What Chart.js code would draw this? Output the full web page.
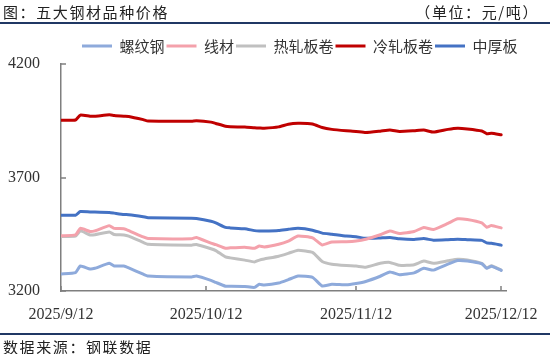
<!DOCTYPE html>
<html><head><meta charset="utf-8">
<script src="https://cdn.jsdelivr.net/npm/chart.js@4/dist/chart.umd.min.js"></script>
<style>
html,body{margin:0;padding:0;background:#fff;}
#wrap{position:relative;width:550px;height:354px;overflow:hidden;background:#fff;}
#c{position:absolute;left:0;top:0;}
.t{position:absolute;font-family:"Noto Sans CJK SC";font-size:15px;color:#222;white-space:nowrap;line-height:1;letter-spacing:1.6px;}
.rule{position:absolute;left:0;width:550px;height:2px;background:#203864;}
</style></head><body>
<div id="wrap">
<canvas id="c" width="550" height="354"></canvas>
<div class="t" style="left:3px;top:4px;">图：五大钢材品种价格</div>
<div class="t" style="right:11px;top:4px;">（单位：元/吨）</div>
<div class="rule" style="top:22px"></div>
<div class="rule" style="top:333px"></div>
<div class="t" style="left:3px;top:339px;">数据来源：钢联数据</div>
</div>
<script>
const dates = ['2025-09-12','2025-09-15','2025-09-16','2025-09-18','2025-09-19','2025-09-22','2025-09-23','2025-09-25','2025-09-26','2025-09-29',
'2025-09-30','2025-10-09','2025-10-10','2025-10-13','2025-10-14','2025-10-16','2025-10-17','2025-10-20','2025-10-22','2025-10-23',
'2025-10-24','2025-10-27','2025-10-29','2025-10-31','2025-11-03','2025-11-05','2025-11-07','2025-11-10','2025-11-12','2025-11-14',
'2025-11-17','2025-11-19','2025-11-21','2025-11-24','2025-11-26','2025-11-28','2025-12-01','2025-12-03','2025-12-05','2025-12-08',
'2025-12-09','2025-12-10','2025-12-12'];
const seriesNames = ['螺纹钢','线材','热轧板卷','冷轧板卷','中厚板'];
const rebar = [3275,3281,3310,3297,3300,3322,3310,3310,3302,3274, 3266,3262,3266,3247,3238,3221,3221,3220,3216,3230, 3226,3235,3250,3266,3260,3222,3230,3227,3233,3242, 3265,3284,3272,3280,3300,3292,3318,3334,3332,3320, 3300,3309,3291];
const wire = [3443,3447,3476,3462,3465,3488,3476,3474,3466,3438, 3431,3430,3436,3411,3404,3388,3390,3393,3388,3398, 3394,3406,3420,3442,3434,3403,3416,3417,3420,3428, 3448,3464,3453,3462,3480,3471,3498,3518,3515,3500, 3481,3489,3478];
const hotCoil = [3440,3442,3465,3447,3448,3460,3449,3447,3442,3414, 3406,3402,3405,3386,3378,3350,3346,3336,3328,3336, 3341,3353,3366,3380,3370,3330,3318,3312,3310,3305, 3322,3326,3313,3316,3332,3322,3333,3340,3337,3322, 3302,3311,3292];
const coldCoil = [3952,3953,3975,3970,3970,3976,3973,3970,3969,3955, 3949,3948,3950,3944,3938,3926,3924,3922,3919,3918, 3917,3923,3935,3939,3936,3920,3912,3906,3903,3898, 3904,3909,3903,3906,3909,3900,3912,3917,3914,3905, 3893,3895,3888];
const plate = [3534,3534,3550,3548,3548,3546,3543,3537,3536,3527, 3523,3520,3519,3507,3500,3480,3478,3474,3466,3464, 3464,3467,3472,3476,3468,3455,3450,3442,3439,3432, 3434,3436,3430,3427,3431,3424,3426,3428,3426,3423, 3412,3410,3402];
const xTickDates = ['2025-09-12','2025-10-12','2025-11-12','2025-12-12'];
const xTickLabels = ['2025/9/12','2025/10/12','2025/11/12','2025/12/12'];
const xEndDate = '2025-12-13';
const yTicks = [3200,3700,4200];

const t0 = Date.parse(dates[0]+'T00:00:00Z');
const day = s => (Date.parse(s+'T00:00:00Z') - t0)/86400000;
const pts = arr => arr.map((v,i)=>({x:day(dates[i]), y:v}));
const colors = ['#8eaadb','#f4a1ab','#c0c0c0','#c00000','#4472c4'];
const values = [rebar, wire, hotCoil, coldCoil, plate];

const AXIS = '#7f7f7f';
const tickFont = {family:'"Liberation Serif", "Times New Roman", serif', size:16};

const innerTicks = {
  id:'innerTicks',
  beforeDatasetsDraw(chart){
    const {ctx, chartArea:a, scales:{x,y}} = chart;
    ctx.save(); ctx.strokeStyle = AXIS; ctx.lineWidth = 1.5;
    y.ticks.forEach(t=>{const py=Math.round(y.getPixelForValue(t.value)); ctx.beginPath(); ctx.moveTo(a.left,py); ctx.lineTo(a.left+5,py); ctx.stroke();});
    x.ticks.forEach(t=>{const px=Math.round(x.getPixelForValue(t.value)); ctx.beginPath(); ctx.moveTo(px,a.bottom); ctx.lineTo(px,a.bottom-5); ctx.stroke();});
    ctx.restore();
  }
};
const legendPlace = {
  id:'legendPlace',
  afterLayout(chart){
    const lg = chart.legend; if(!lg) return;
    const p = lg.options.labels.padding;
    const dx = 82 - (lg.left + p);
    const dy = 38.5 - (lg.top + p);
    lg.left += dx; lg.right += dx; lg.top += dy; lg.bottom += dy;
  }
};

new Chart(document.getElementById('c'), {
  type:'line',
  data:{datasets: seriesNames.map((n,i)=>({
    label:n, data:pts(values[i]), borderColor:colors[i], backgroundColor:colors[i],
    borderWidth:3, pointRadius:0, tension:0.15, borderJoinStyle:'round', borderCapStyle:'round', fill:false
  }))},
  options:{
    responsive:false, animation:false, devicePixelRatio:1,
    layout:{padding:{top:37,left:0,right:44,bottom:18}},
    plugins:{
      tooltip:{enabled:false},
      legend:{
        position:'top', align:'start',
        labels:{
          font:{family:'"Noto Sans CJK SC"', size:15}, color:'#333',
          boxWidth:30, boxHeight:3, padding:2,
          generateLabels:c=>Chart.defaults.plugins.legend.labels.generateLabels(c).map(l=>Object.assign(l,{lineWidth:0, fillStyle:l.strokeStyle}))
        }
      }
    },
    scales:{
      x:{
        type:'linear', min:0, max:day(xEndDate),
        grid:{display:false}, border:{display:true,color:AXIS,width:1.5},
        afterBuildTicks:s=>{s.ticks = xTickDates.map(d=>({value:day(d)}));},
        afterFit:s=>{s.height = 45;},
        ticks:{font:tickFont, color:'#333', padding:6, maxRotation:0, autoSkip:false,
          callback:(v)=>{const i = xTickDates.findIndex(d=>day(d)===v); return i>=0 ? xTickLabels[i] : '';}}
      },
      y:{
        min:3200, max:4200,
        grid:{display:false}, border:{display:true,color:AXIS,width:1.5},
        afterBuildTicks:s=>{s.ticks = yTicks.map(v=>({value:v}));},
        afterFit:s=>{s.width = 61;},
        ticks:{font:tickFont, color:'#333', padding:13, callback:v=>String(v)}
      }
    }
  },
  plugins:[innerTicks, legendPlace]
});
</script>
</body></html>
